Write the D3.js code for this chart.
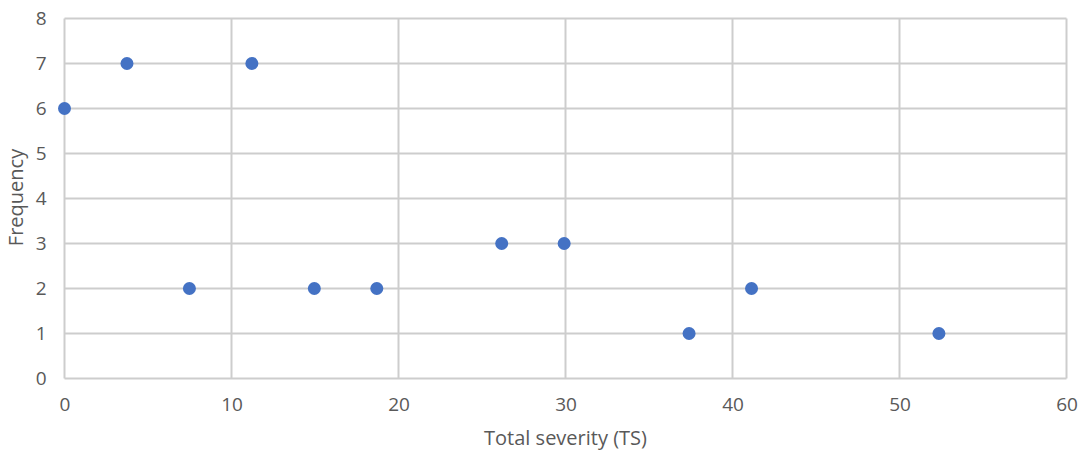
<!DOCTYPE html>
<html><head><meta charset="utf-8">
<script src="https://cdn.jsdelivr.net/npm/d3@7"></script>
<style>body{margin:0;background:#fff}svg{display:block}text{font-family:"Open Sans",sans-serif;fill:#595959}</style>
</head><body><svg id="c" width="1084" height="451"></svg>
<script>
const xValues = [0, 3.74, 7.48, 11.22, 14.96, 18.7, 26.18, 29.92, 37.4, 41.14, 52.36];
const yValues = [6, 7, 2, 7, 2, 2, 3, 3, 1, 2, 1];
const xTicks = [0, 10, 20, 30, 40, 50, 60];
const yTicks = [0, 1, 2, 3, 4, 5, 6, 7, 8];
const xTitle = "Total severity (TS)";
const yTitle = "Frequency";

const svg = d3.select("#c");
const x = d3.scaleLinear().domain([0, 60]).range([64.5, 1066.5]);
const y = d3.scaleLinear().domain([0, 8]).range([378.5, 18.5]);

const grid = svg.append("g").attr("stroke", "#cdcdcd").attr("stroke-width", 2);
grid.selectAll(".gx").data(xTicks).join("line")
  .attr("x1", d => x(d)).attr("x2", d => x(d)).attr("y1", y(8)).attr("y2", y(0));
grid.selectAll(".gy").data(yTicks).join("line")
  .attr("y1", d => y(d)).attr("y2", d => y(d)).attr("x1", x(0)).attr("x2", x(60));

const xAxis = svg.append("g").attr("transform", `translate(0,${y(0)})`)
  .call(d3.axisBottom(x).tickValues(xTicks).tickSize(0).tickPadding(19));
xAxis.select(".domain").remove();
xAxis.selectAll("text").attr("font-size", 19).style("font-family", "'Open Sans', sans-serif").attr("fill", "#595959");

const yAxis = svg.append("g").attr("transform", `translate(${x(0)},0)`)
  .call(d3.axisLeft(y).tickValues(yTicks).tickSize(0).tickPadding(18));
yAxis.select(".domain").remove();
yAxis.selectAll("text").attr("font-size", 19).style("font-family", "'Open Sans', sans-serif").attr("fill", "#595959");

svg.append("text").attr("x", (x(0) + x(60)) / 2).attr("y", 445)
  .attr("text-anchor", "middle").attr("font-size", 20).text(xTitle);
svg.append("text").attr("transform", `translate(23,${(y(0) + y(8)) / 2 - 1}) rotate(-90)`)
  .attr("text-anchor", "middle").attr("font-size", 20).text(yTitle);

svg.append("g").selectAll("circle").data(xValues).join("circle")
  .attr("cx", d => x(d)).attr("cy", (d, i) => y(yValues[i])).attr("r", 6.5)
  .attr("fill", "#4472C4");
</script></body></html>
